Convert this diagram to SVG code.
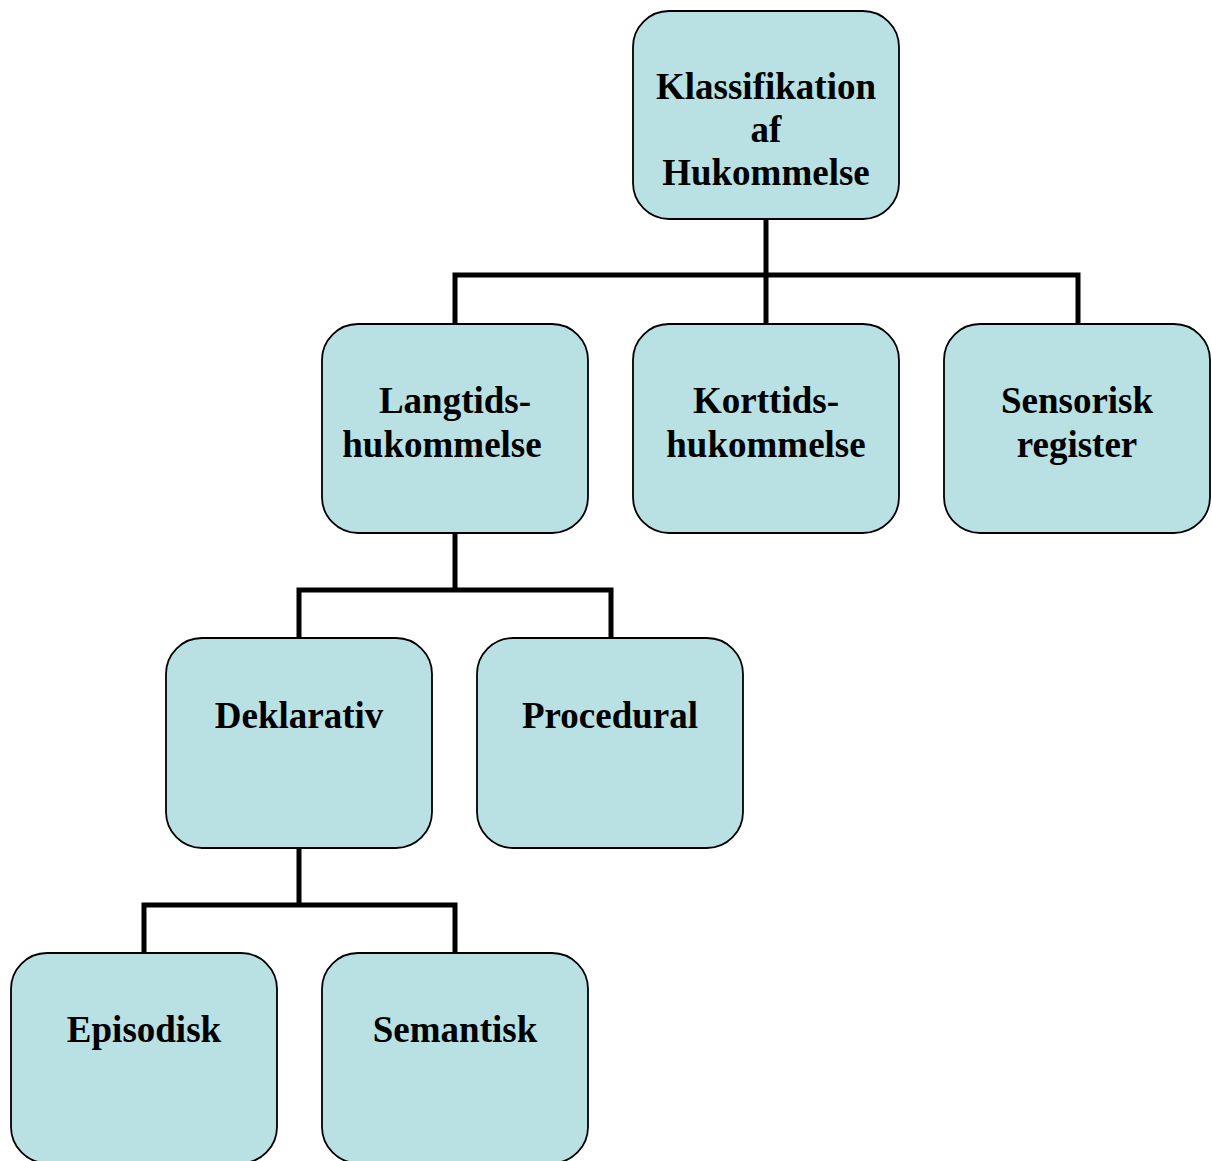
<svg xmlns="http://www.w3.org/2000/svg" width="1212" height="1161" viewBox="0 0 1212 1161">
<style>
.box{fill:#b9e0e3;stroke:#000;stroke-width:1.8}
.t{font-family:"Liberation Serif","Times New Roman",serif;font-weight:bold;font-size:37px;fill:#000;text-anchor:middle}
.c{fill:none;stroke:#000;stroke-width:5;stroke-linejoin:miter;stroke-linecap:butt}
</style>
<rect width="1212" height="1161" fill="#fff"/>
<g id="connectors">
<path class="c" d="M766 219 V324"/>
<path class="c" d="M455 324 V275 H1078 V324"/>
<path class="c" d="M455 533 V590"/>
<path class="c" d="M299 638 V590 H611 V638"/>
<path class="c" d="M299 848 V905"/>
<path class="c" d="M144 953 V905 H455 V953"/>
</g>
<g id="n-root"><rect class="box" x="633" y="11" width="266" height="208" rx="36"/>
<text class="t" x="766" y="99">Klassifikation</text><text class="t" x="766" y="142">af</text><text class="t" x="766" y="185">Hukommelse</text></g>
<g id="n-langtids"><rect class="box" x="322" y="324" width="266" height="209" rx="36"/>
<text class="t" x="455" y="413">Langtids-</text><text class="t" x="442" y="457">hukommelse</text></g>
<g id="n-korttids"><rect class="box" x="633" y="324" width="266" height="209" rx="36"/>
<text class="t" x="766" y="413">Korttids-</text><text class="t" x="766" y="457">hukommelse</text></g>
<g id="n-sensorisk"><rect class="box" x="944" y="324" width="266" height="209" rx="36"/>
<text class="t" x="1077" y="413">Sensorisk</text><text class="t" x="1077" y="457">register</text></g>
<g id="n-deklarativ"><rect class="box" x="166" y="638" width="266" height="210" rx="36"/>
<text class="t" x="299" y="728">Deklarativ</text></g>
<g id="n-procedural"><rect class="box" x="477" y="638" width="266" height="210" rx="36"/>
<text class="t" x="610" y="728">Procedural</text></g>
<g id="n-episodisk"><rect class="box" x="11" y="953" width="266" height="210" rx="36"/>
<text class="t" x="144" y="1042">Episodisk</text></g>
<g id="n-semantisk"><rect class="box" x="322" y="953" width="266" height="210" rx="36"/>
<text class="t" x="455" y="1042">Semantisk</text></g>
</svg>
